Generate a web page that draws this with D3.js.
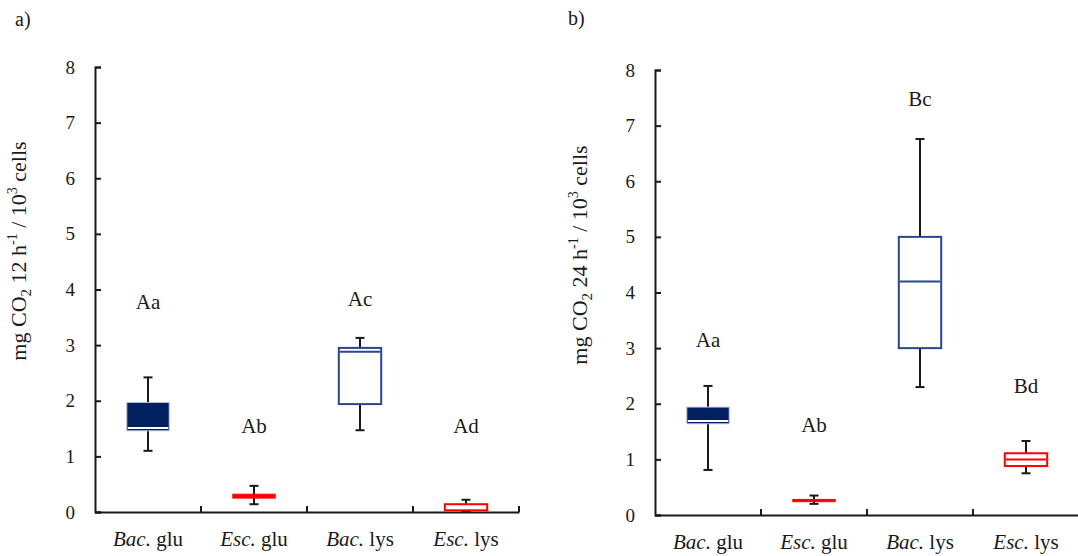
<!DOCTYPE html>
<html>
<head>
<meta charset="utf-8">
<script src="https://cdn.jsdelivr.net/npm/d3@7"></script>
<style>
  body { margin: 0; background: #fff; }
  svg text { font-family: "Liberation Serif", "Times New Roman", "DejaVu Serif", serif !important; fill: #1a1a1a; }
</style>
</head>
<body>
<div id="chart"></div>
<script>
// --- DATA ---
const genus = ["Bac.", "Esc.", "Bac.", "Esc."];
const substrate = ["glu", "glu", "lys", "lys"];
const categories = genus.map((g, i) => g + " " + substrate[i]);
const yTicks = [0, 1, 2, 3, 4, 5, 6, 7, 8];

// a) 12 h
const minA = [1.10, 0.14, 1.47, 0.01];
const q1A  = [1.46, 0.25, 1.94, 0.03];
const medA = [1.51, 0.25, 2.88, 0.03];
const q3A  = [1.97, 0.32, 2.95, 0.14];
const maxA = [2.42, 0.47, 3.13, 0.22];
const lettersA = ["Aa", "Ab", "Ac", "Ad"];

// b) 24 h
const minB = [0.81, 0.20, 2.30, 0.75];
const q1B  = [1.64, 0.24, 3.00, 0.88];
const medB = [1.69, 0.24, 4.20, 1.00];
const q3B  = [1.94, 0.28, 5.00, 1.11];
const maxB = [2.32, 0.35, 6.76, 1.33];
const lettersB = ["Aa", "Ab", "Bc", "Bd"];

// --- LAYOUT / STYLE ---
const width = 1078, height = 556;
const serif = '"Liberation Serif", "Times New Roman", "DejaVu Serif", serif';
const letterLevelA = [3.65, 1.42, 3.70, 1.42];
const letterLevelB = [3.02, 1.49, 7.36, 2.20];

const boxStyle = [
  { fill: "#002060", stroke: "#b9c6df", sw: 1, median: "#ffffff" },
  { fill: "#ff0000", stroke: "#ff0000", sw: 1, median: "#ffffff" },
  { fill: "#ffffff", stroke: "#2b468c", sw: 2, median: "#2b468c" },
  { fill: "#ffffff", stroke: "#ff0000", sw: 2, median: "#ff0000" }
];

const panels = [
  { tag: "a)", tagX: 15, tagY: 26, left: 95, bottom: 512, top: 67,
    titleX: 26, titleY: 251, hours: "12",
    min: minA, q1: q1A, med: medA, q3: q3A, max: maxA,
    letters: lettersA, letterAt: letterLevelA },
  { tag: "b)", tagX: 568, tagY: 25, left: 655, bottom: 515, top: 70,
    titleX: 587, titleY: 255, hours: "24",
    min: minB, q1: q1B, med: medB, q3: q3B, max: maxB,
    letters: lettersB, letterAt: letterLevelB }
];

const svg = d3.select("#chart")
  .append("svg")
  .attr("width", width)
  .attr("height", height)
  .attr("viewBox", [0, 0, width, height])
  .style("font-family", serif);

panels.forEach(p => {
  const x = d3.scaleBand()
    .domain(categories)
    .range([p.left, p.left + 424])
    .padding(0);

  const y = d3.scaleLinear()
    .domain([0, 8])
    .range([p.bottom, p.top]);

  const g = svg.append("g");

  // panel tag
  g.append("text")
    .attr("x", p.tagX)
    .attr("y", p.tagY)
    .style("font-size", "20px")
    .text(p.tag);

  // y axis title
  const title = g.append("text")
    .attr("transform", `translate(${p.titleX},${p.titleY}) rotate(-90)`)
    .attr("text-anchor", "middle")
    .style("font-size", "22px");
  title.append("tspan").text("mg CO");
  title.append("tspan").style("font-size", "15px").attr("dy", 5).text("2");
  title.append("tspan").attr("dy", -5).text(" " + p.hours + " h");
  title.append("tspan").style("font-size", "14px").attr("dy", -9).text("-1");
  title.append("tspan").attr("dy", 9).text(" / 10");
  title.append("tspan").style("font-size", "14px").attr("dy", -9).text("3");
  title.append("tspan").attr("dy", 9).text(" cells");

  // y axis
  g.append("g")
    .attr("transform", `translate(${p.left},0)`)
    .call(d3.axisLeft(y).tickValues(yTicks).tickSize(-6).tickSizeOuter(-6).tickPadding(20).tickFormat(d3.format("d")))
    .attr("font-family", null)
    .call(a => a.selectAll("path, line").attr("stroke", "#1a1a1a").attr("stroke-width", 2))
    .call(a => a.selectAll("text").style("font-size", "19px").attr("fill", "#1a1a1a"));

  // x axis
  const xAxis = g.append("g")
    .attr("transform", `translate(0,${p.bottom})`)
    .call(d3.axisBottom(x).tickSize(0).tickSizeOuter(0).tickPadding(19))
    .attr("font-family", null)
    .call(a => a.select(".domain").attr("stroke", "#1a1a1a").attr("stroke-width", 2));

  xAxis.selectAll(".tick text")
    .style("font-size", "21px")
    .attr("fill", "#1a1a1a")
    .text(null)
    .each(function(d, i) {
      const t = d3.select(this);
      t.append("tspan").style("font-style", "italic").text(genus[i]);
      t.append("tspan").text(" " + substrate[i]);
    });

  // category separators on the x axis
  xAxis.selectAll(".sep")
    .data(categories.slice(1).map(c => x(c)).concat([x.range()[1]]))
    .join("line")
    .attr("class", "sep")
    .attr("x1", d => d).attr("x2", d => d)
    .attr("y1", 0).attr("y2", -6)
    .attr("stroke", "#1a1a1a")
    .attr("stroke-width", 2);

  // boxes
  const idx = d3.range(categories.length);
  const bw = x.bandwidth() * 0.4;
  const cx = i => x(categories[i]) + x.bandwidth() / 2;

  const box = g.append("g").selectAll("g")
    .data(idx)
    .join("g");

  // whisker
  box.append("line")
    .attr("x1", cx).attr("x2", cx)
    .attr("y1", i => y(p.min[i])).attr("y2", i => y(p.max[i]))
    .attr("stroke", "#1a1a1a").attr("stroke-width", 2);

  box.selectAll(".cap")
    .data(i => [{ i, v: p.min[i] }, { i, v: p.max[i] }])
    .join("line")
    .attr("class", "cap")
    .attr("x1", d => cx(d.i) - 4.5).attr("x2", d => cx(d.i) + 4.5)
    .attr("y1", d => y(d.v)).attr("y2", d => y(d.v))
    .attr("stroke", "#1a1a1a").attr("stroke-width", 2);

  box.append("rect")
    .attr("x", i => cx(i) - bw / 2)
    .attr("width", bw)
    .attr("y", i => y(p.q3[i]))
    .attr("height", i => Math.max(y(p.q1[i]) - y(p.q3[i]), 1))
    .attr("fill", i => boxStyle[i].fill)
    .attr("stroke", i => boxStyle[i].stroke)
    .attr("stroke-width", i => boxStyle[i].sw);

  // median (only when it sits inside the box)
  box.filter(i => p.med[i] > p.q1[i] && p.med[i] < p.q3[i])
    .append("line")
    .attr("x1", i => cx(i) - bw / 2 + 1).attr("x2", i => cx(i) + bw / 2 - 1)
    .attr("y1", i => y(p.med[i])).attr("y2", i => y(p.med[i]))
    .attr("stroke", i => boxStyle[i].median)
    .attr("stroke-width", 2);

  // significance letters
  g.append("g").selectAll("text")
    .data(idx)
    .join("text")
    .attr("x", cx)
    .attr("y", i => y(p.letterAt[i]))
    .attr("text-anchor", "middle")
    .style("font-size", "21px")
    .text(i => p.letters[i]);
});
</script>
</body>
</html>
